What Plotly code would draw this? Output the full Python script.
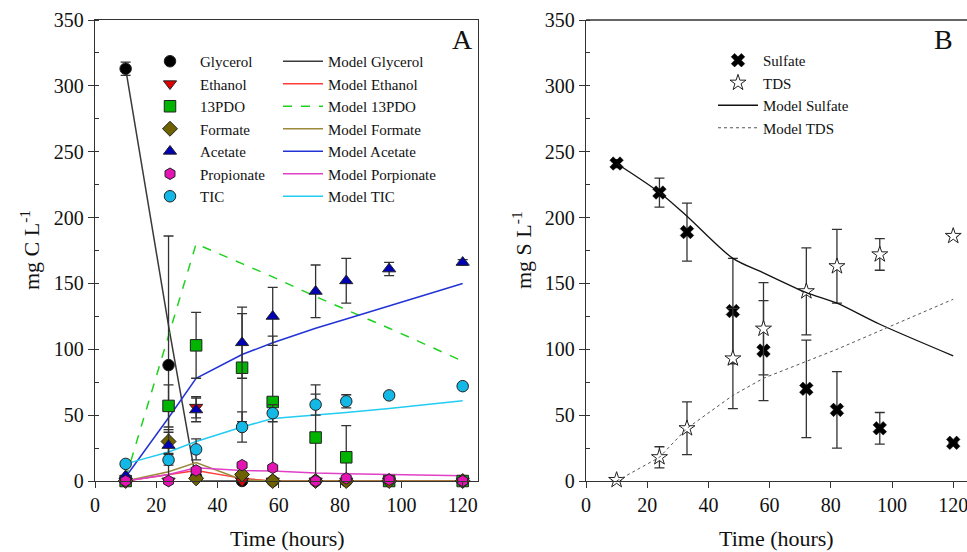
import plotly.graph_objects as go

# ---------------- data ----------------
times = [10, 24, 33, 48, 58, 72, 82, 96, 120]

glycerol = [313, 88, 3, 0, 0, 0, 0, 0, 0]
glycerol_err = [5, 98, 0, 0, 0, 0, 0, 0, 0]
ethanol = [0, 0, 56, 0, 0, 0, 0, 0, 0]
ethanol_err = [0, 0, 8, 0, 0, 0, 0, 0, 0]
pdo = [0, 57, 103, 86, 60, 33, 18, 0, 0]
pdo_err = [0, 16, 25, 41, 50, 40, 24, 0, 0]
formate = [0, 30, 2, 5, 0, 0, 0, 0, 0]
formate_err = [0, 9, 0, 0, 0, 0, 0, 0, 0]
acetate = [4, 27, 54, 105, 125, 144, 152, 161, 166]
acetate_err = [0, 10, 9, 27, 22, 20, 17, 5, 2]
propionate = [0, 0, 8, 12, 10, 0, 2, 1, 0]
propionate_err = [0, 0, 0, 0, 0, 0, 0, 0, 0]
tic = [13, 16, 24, 41, 51.5, 58, 60.5, 65, 72]
tic_err = [0, 4, 8, 11.5, 6.5, 8, 5, 2, 0]

model_times = [10, 24, 33, 48, 58, 72, 82, 96, 120]
m_glycerol = [313, 118, 0, 0, 0, 0, 0, 0, 0]
m_ethanol = [0, 5, 8, 2, 0, 0, 0, 0, 0]
m_pdo = [2, 110, 180, 165, 155, 140, 130, 116, 91]
m_formate = [0, 7, 14, 1, 0, 0, 0, 0, 0]
m_acetate = [3, 48, 78, 96, 105, 116, 123, 133, 150]
m_propionate = [0, 5, 10, 8, 7.5, 6, 5.5, 5, 4]
m_tic = [13, 22, 30, 41, 47.5, 50, 52, 55, 61]

sulfate = [241, 219, 189, 129, 99, 70, 54, 40, 29]
sulfate_err = [3, 11, 22, 40, 38, 37, 29, 12, 0]
tds = [0.7, 18, 40, 93, 115.6, 144, 163, 172, 186]
tds_err = [0, 8, 20, 38, 35, 33, 28, 12, 0]
m_sulfate = [241, 219, 201, 169, 158, 143, 135, 119, 95]
m_tds = [0, 18, 40, 65, 78, 91, 100, 114, 138]

x_ticks = [0, 20, 40, 60, 80, 100, 120]
y_ticks = [0, 50, 100, 150, 200, 250, 300, 350]

# ---------------- helpers ----------------
W, H = 967, 552
FONT = "Liberation Serif, Times New Roman, serif"
def px(x):
    return x / W
def py(y):
    return 1 - y / H

fig = go.Figure()

def err(vals, e):
    return dict(type="data", array=e, arrayminus=[min(a, b) for a, b in zip(e, vals)],
                color="#333333", thickness=1.3, width=5, visible=True)

# Panel A models (legend2)
models_A = [
    ("Model Glycerol", m_glycerol, "#3a3a3a", "solid"),
    ("Model Ethanol", m_ethanol, "#ff3b3b", "solid"),
    ("Model 13PDO", m_pdo, "#1ed21e", "dash"),
    ("Model Formate", m_formate, "#9c8a3c", "solid"),
    ("Model Acetate", m_acetate, "#2233d6", "solid"),
    ("Model Porpionate", m_propionate, "#e040c8", "solid"),
    ("Model TIC", m_tic, "#22ccf2", "solid"),
]
for name, vals, col, dash in models_A:
    fig.add_trace(go.Scatter(x=model_times, y=vals, mode="lines", name=name,
                             line=dict(color=col, width=1.5, dash=dash),
                             xaxis="x", yaxis="y", legend="legend2", cliponaxis=False))

series_A = [
    ("Glycerol", glycerol, glycerol_err, "#000000", "circle"),
    ("Ethanol", ethanol, ethanol_err, "#e00000", "triangle-down"),
    ("13PDO", pdo, pdo_err, "#00b400", "square"),
    ("Formate", formate, formate_err, "#6e6200", "diamond"),
    ("Acetate", acetate, acetate_err, "#0000b4", "triangle-up"),
    ("Propionate", propionate, propionate_err, "#e414b4", "hexagon"),
    ("TIC", tic, tic_err, "#14b8e6", "circle"),
]
for name, vals, e, col, sym in series_A:
    fig.add_trace(go.Scatter(x=times, y=vals, mode="markers", name=name,
                             marker=dict(color=col, symbol=sym, size=11.5,
                                         line=dict(color="#222222", width=1)),
                             error_y=err(vals, e),
                             xaxis="x", yaxis="y", legend="legend", cliponaxis=False))

# Panel B
fig.add_trace(go.Scatter(x=times, y=sulfate, mode="markers", name="Sulfate",
                         marker=dict(color="#000000", symbol="x", size=12,
                                     line=dict(color="#000000", width=0.5)),
                         error_y=err(sulfate, sulfate_err),
                         xaxis="x2", yaxis="y2", legend="legend3", cliponaxis=False))
fig.add_trace(go.Scatter(x=times, y=tds, mode="markers", name="TDS",
                         marker=dict(color="#ffffff", symbol="star", size=12,
                                     line=dict(color="#222222", width=1)),
                         error_y=err(tds, tds_err),
                         xaxis="x2", yaxis="y2", legend="legend3", cliponaxis=False))
fig.add_trace(go.Scatter(x=model_times, y=m_sulfate, mode="lines", name="Model Sulfate",
                         line=dict(color="#111111", width=1.3, shape="spline", smoothing=0.8),
                         xaxis="x2", yaxis="y2", legend="legend3"))
fig.add_trace(go.Scatter(x=model_times, y=m_tds, mode="lines", name="Model TDS",
                         line=dict(color="#555555", width=1, dash="dot"),
                         xaxis="x2", yaxis="y2", legend="legend3"))

axis_common = dict(showline=True, linecolor="#333333", linewidth=1.3, showgrid=False,
                   zeroline=False, ticks="outside", ticklen=6, tickwidth=1.2,
                   tickcolor="#333333", automargin=False,
                   tickfont=dict(family=FONT, size=20, color="#111111"))

LEG_FONT = dict(family=FONT, size=15, color="#111111")
ydom = [py(481), py(20)]
fig.update_layout(
    width=W, height=H, margin=dict(l=0, r=0, t=0, b=0, autoexpand=False),
    paper_bgcolor="white", plot_bgcolor="white",
    font=dict(family=FONT, color="#111111"),
    xaxis=dict(domain=[px(95), px(478)], range=[0, 125], tickvals=x_ticks, mirror=True,
               anchor="y", **axis_common),
    yaxis=dict(domain=ydom, range=[0, 350], tickvals=y_ticks, mirror=True, anchor="x",
               minor=dict(dtick=25, ticks="inside", ticklen=4, tickcolor="#333333"),
               **axis_common),
    xaxis2=dict(domain=[px(586), 1.0], range=[0, 124.5], tickvals=x_ticks, mirror=False,
                anchor="y2", ticklabeloverflow="allow", **axis_common),
    yaxis2=dict(domain=ydom, range=[0, 350], tickvals=y_ticks, anchor="x2",
                minor=dict(dtick=25, ticks="inside", ticklen=4, tickcolor="#333333"),
                **axis_common),
    legend=dict(x=px(140), y=py(45), xanchor="left", yanchor="top", itemwidth=50,
                font=LEG_FONT, bgcolor="rgba(0,0,0,0)", borderwidth=0, tracegroupgap=0),
    legend2=dict(x=px(278), y=py(45), xanchor="left", yanchor="top", itemwidth=40,
                 font=LEG_FONT, bgcolor="rgba(0,0,0,0)", borderwidth=0, tracegroupgap=0),
    legend3=dict(x=px(713), y=py(44), xanchor="left", yanchor="top", itemwidth=40,
                 font=LEG_FONT, bgcolor="rgba(0,0,0,0)", borderwidth=0, tracegroupgap=0),
    showlegend=True,
)

# top line for panel B
fig.add_shape(type="line", xref="paper", yref="paper", x0=px(586), x1=1.0,
              y0=py(20), y1=py(20), line=dict(color="#333333", width=1.3))

def ann(text, x, y, size=22, angle=0):
    fig.add_annotation(text=text, x=px(x), y=py(y), xref="paper", yref="paper",
                       xanchor="center", yanchor="middle", showarrow=False,
                       textangle=angle, font=dict(family=FONT, size=size, color="#111111"))

ann("Time (hours)", 287, 538)
ann("Time (hours)", 776, 538)
ann("mg C L<sup>-1</sup>", 30, 250, angle=-90)
ann("mg S L<sup>-1</sup>", 522, 250, angle=-90)
ann("A", 462, 40, size=28)
ann("B", 943, 40, size=28)

fig.write_html("out.html", config={"displayModeBar": False},
               post_script="document.body.style.margin='0';document.body.style.overflow='hidden';")
